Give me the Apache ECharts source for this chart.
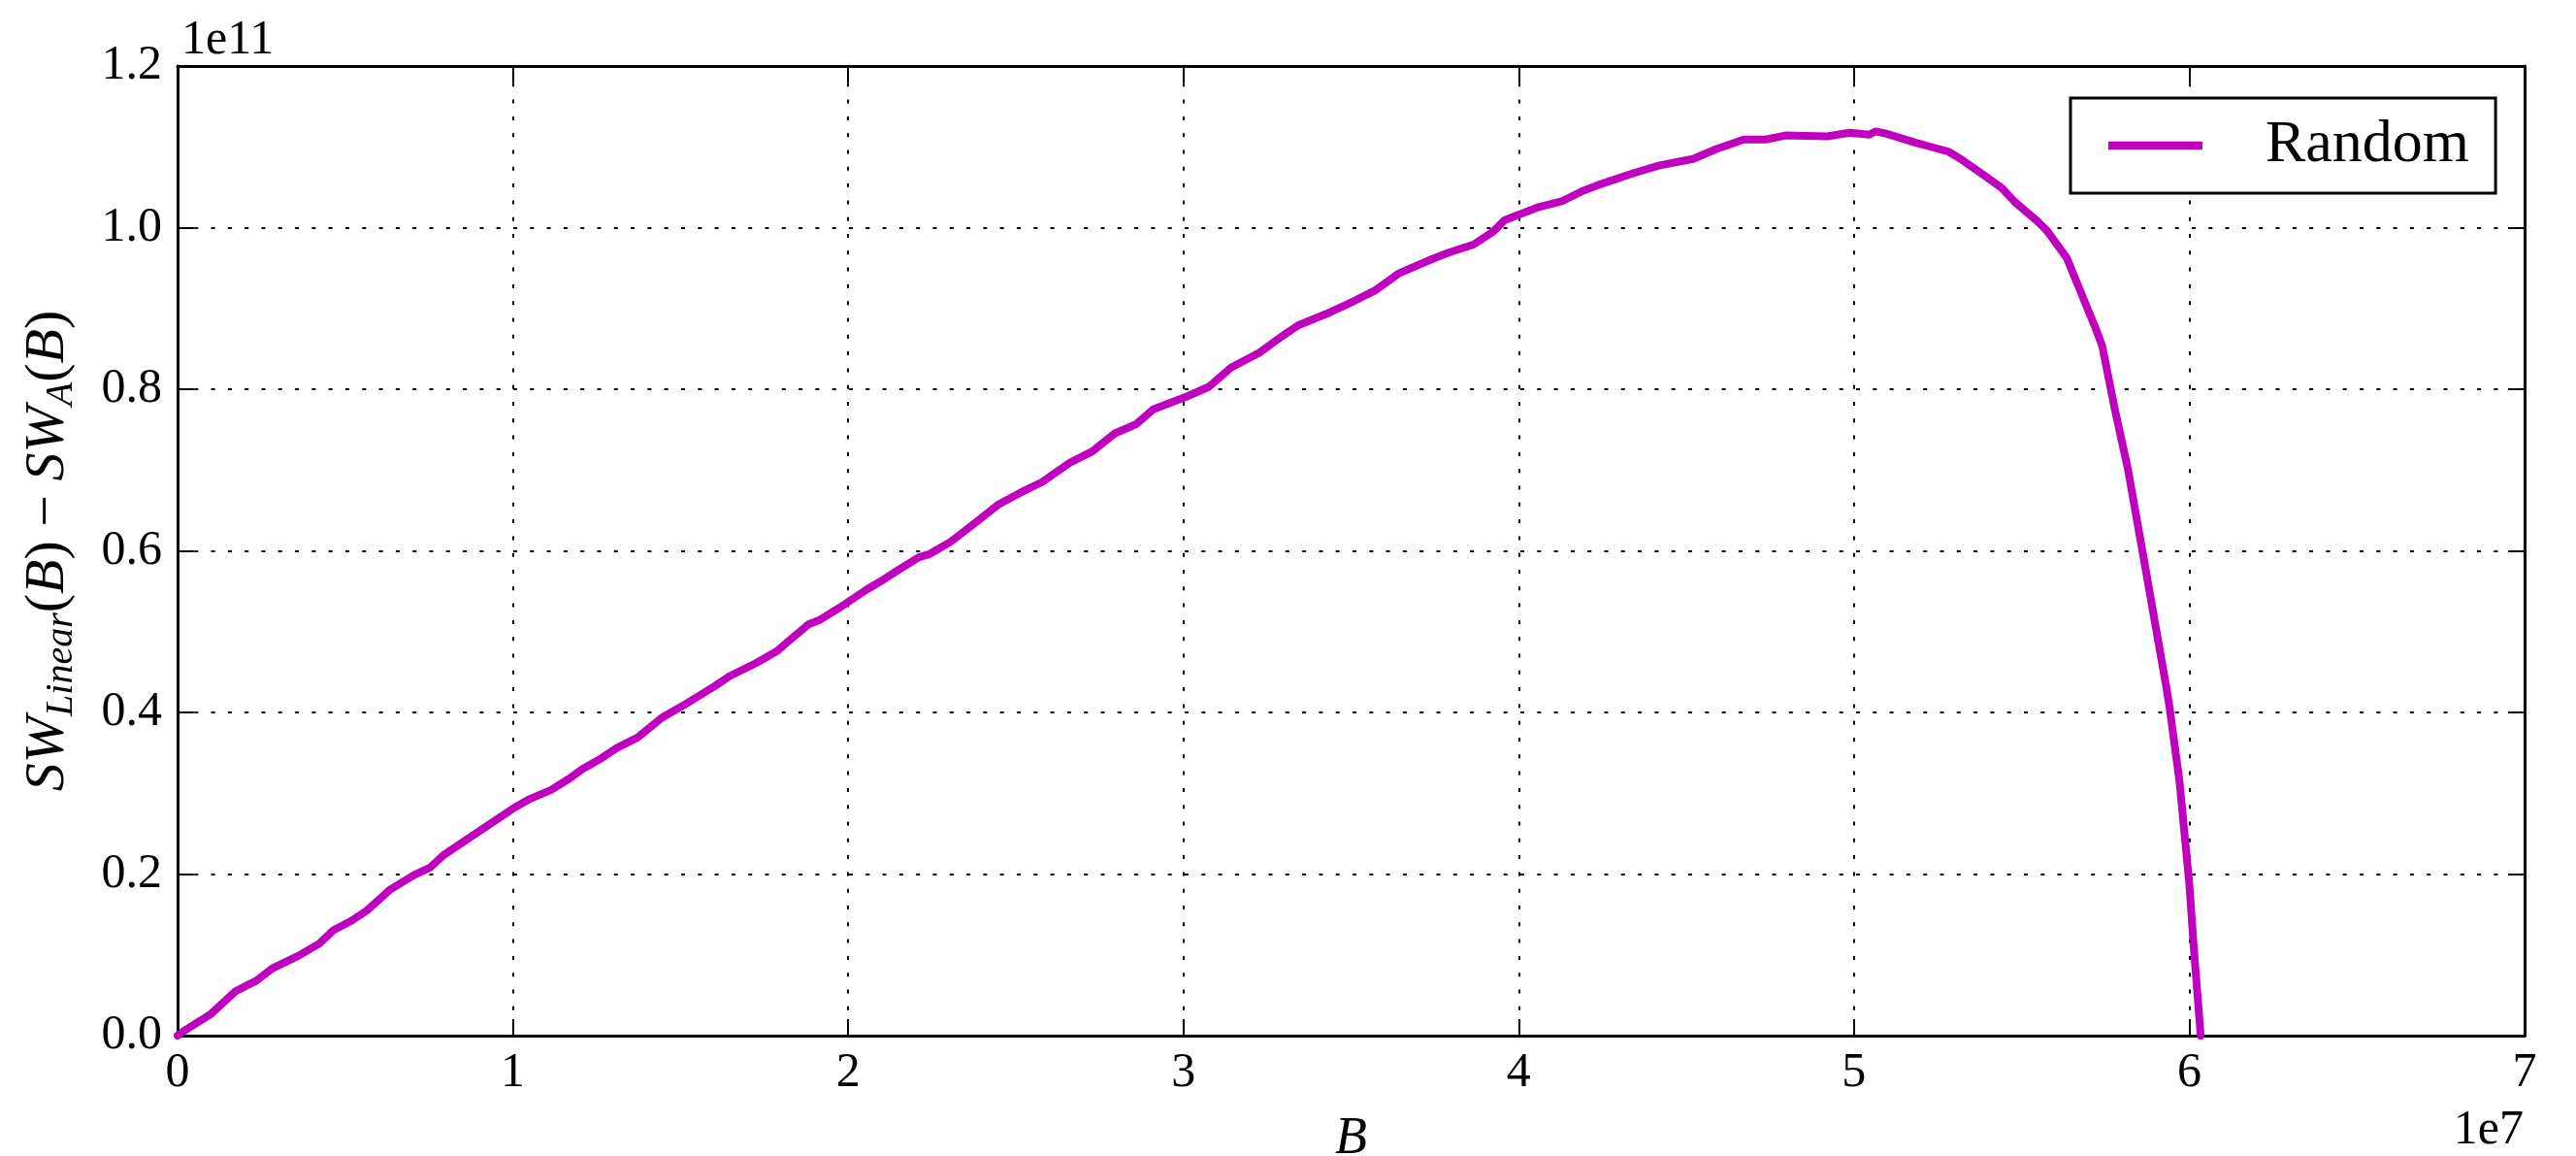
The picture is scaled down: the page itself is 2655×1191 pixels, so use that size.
<!DOCTYPE html>
<html>
<head>
<meta charset="utf-8">
<script src="https://cdn.jsdelivr.net/npm/echarts@6/dist/echarts.min.js"></script>
<style>
html,body{margin:0;padding:0;background:#fff;}
#c{width:2655px;height:1191px;}
</style>
</head>
<body>
<div id="c"></div>
<script>
// B values in units of 1e7, difference values in units of 1e11
const X_SCALE = 1e7;
const Y_SCALE = 1e11;
const B = [0, 0.016, 0.10, 0.173, 0.235, 0.282, 0.361, 0.423, 0.463, 0.518, 0.565, 0.635, 0.706, 0.753, 0.792, 0.878, 0.957, 1.004, 1.051, 1.114, 1.168, 1.208, 1.263, 1.31, 1.372, 1.443, 1.506, 1.60, 1.647, 1.725, 1.788, 1.819, 1.882, 1.913, 1.976, 2.055, 2.10, 2.141, 2.211, 2.243, 2.305, 2.368, 2.447, 2.528, 2.578, 2.661, 2.728, 2.794, 2.86, 2.91, 3.01, 3.076, 3.143, 3.226, 3.292, 3.342, 3.425, 3.508, 3.575, 3.641, 3.741, 3.791, 3.865, 3.924, 3.957, 4.056, 4.131, 4.189, 4.239, 4.339, 4.42, 4.52, 4.588, 4.671, 4.737, 4.795, 4.92, 4.987, 5.045, 5.065, 5.098, 5.18, 5.229, 5.282, 5.316, 5.373, 5.441, 5.479, 5.547, 5.576, 5.634, 5.72, 5.74, 5.778, 5.817, 5.855, 5.932, 5.942, 5.971, 6.0, 6.014, 6.034];
const RANDOM = [0, 0.005, 0.027, 0.055, 0.068, 0.083, 0.099, 0.114, 0.130, 0.142, 0.155, 0.181, 0.199, 0.208, 0.223, 0.247, 0.269, 0.282, 0.293, 0.304, 0.318, 0.330, 0.343, 0.356, 0.369, 0.393, 0.408, 0.432, 0.445, 0.461, 0.476, 0.487, 0.509, 0.514, 0.530, 0.552, 0.563, 0.574, 0.592, 0.596, 0.611, 0.631, 0.657, 0.675, 0.685, 0.709, 0.723, 0.745, 0.757, 0.775, 0.791, 0.803, 0.827, 0.845, 0.865, 0.879, 0.893, 0.909, 0.923, 0.943, 0.961, 0.969, 0.979, 0.995, 1.009, 1.025, 1.033, 1.045, 1.053, 1.067, 1.077, 1.085, 1.097, 1.109, 1.109, 1.114, 1.113, 1.1175, 1.115, 1.119, 1.116, 1.1056, 1.100, 1.094, 1.0855, 1.069, 1.049, 1.032, 1.008, 0.996, 0.963, 0.876, 0.854, 0.775, 0.701, 0.612, 0.430, 0.404, 0.314, 0.188, 0.106, 0.0];
const X_TICKS = [0, 1, 2, 3, 4, 5, 6, 7];
const Y_TICKS = [0.0, 0.2, 0.4, 0.6, 0.8, 1.0, 1.2];
const SERIES_NAME = 'Random';

const FONT = '"Liberation Serif", "DejaVu Serif", serif';
const data = B.map((b, i) => [b * X_SCALE, RANDOM[i] * Y_SCALE]);

const gridDash = {type: [4, 13.3], width: 2, color: '#000'};
const tick = {show: true, inside: true, length: 17, lineStyle: {color: '#000', width: 2}};
const axLine = {show: true, onZero: false, lineStyle: {color: '#000', width: 3}};
const xCommon = {type: 'value', min: X_TICKS[0] * X_SCALE, max: X_TICKS[X_TICKS.length - 1] * X_SCALE, interval: X_SCALE};
const yCommon = {type: 'value', min: Y_TICKS[0] * Y_SCALE, max: Y_TICKS[Y_TICKS.length - 1] * Y_SCALE, interval: 0.2 * Y_SCALE};

const chart = echarts.init(document.getElementById('c'), null, {renderer: 'canvas'});
chart.setOption({
  backgroundColor: '#fff',
  animation: false,
  grid: {left: 183, right: 53, top: 68, bottom: 124, containLabel: false, outerBoundsMode: 'none'},
  xAxis: [
    Object.assign({}, xCommon, {
      position: 'bottom',
      axisLine: axLine, axisTick: tick,
      axisLabel: {margin: 14, color: '#000', fontFamily: FONT, fontSize: 50,
        formatter: v => String(Math.round(v / X_SCALE))},
      splitLine: {show: true, lineStyle: gridDash},
      name: 'B', nameLocation: 'middle', nameGap: 80,
      nameTextStyle: {fontFamily: FONT, fontStyle: 'italic', fontSize: 54, color: '#000'}
    }),
    Object.assign({}, xCommon, {
      position: 'top',
      axisLine: axLine, axisTick: tick, axisLabel: {show: false}, splitLine: {show: false}
    })
  ],
  yAxis: [
    Object.assign({}, yCommon, {
      position: 'left',
      axisLine: axLine, axisTick: tick,
      axisLabel: {margin: 16, color: '#000', fontFamily: FONT, fontSize: 50,
        formatter: v => (v / Y_SCALE).toFixed(1)},
      splitLine: {show: true, lineStyle: gridDash},
      name: '{i|SW}{s|Linear}{r|(}{i|B}{r|)}{r| \u2212 }{i|SW}{s|A}{r|(}{i|B}{r|)}',
      nameLocation: 'middle', nameRotate: 90, nameGap: 100,
      nameTextStyle: {
        color: '#000',
        rich: {
          i: {fontFamily: FONT, fontStyle: 'italic', fontSize: 58, lineHeight: 66, color: '#000'},
          r: {fontFamily: FONT, fontSize: 58, lineHeight: 66, color: '#000'},
          s: {fontFamily: FONT, fontStyle: 'italic', fontSize: 40, lineHeight: 42, color: '#000',
              verticalAlign: 'bottom', padding: [46, 0, 0, 0]}
        }
      }
    }),
    Object.assign({}, yCommon, {
      position: 'right',
      axisLine: axLine, axisTick: tick, axisLabel: {show: false}, splitLine: {show: false}
    })
  ],
  legend: {
    show: true,
    left: 2134, top: 101,
    orient: 'horizontal',
    padding: [18, 27, 18, 39],
    borderColor: '#000', borderWidth: 3, borderRadius: 0,
    backgroundColor: '#fff',
    itemWidth: 97, itemHeight: 20,
    data: [{name: SERIES_NAME, icon: 'path://M0,0 L100,0 L100,9 L0,9 Z', itemStyle: {color: '#bf00bf'}}],
    itemStyle: {color: '#bf00bf'},
    formatter: n => '{g| }{t|' + n + '}',
    textStyle: {
      color: '#000',
      rich: {
        g: {width: 60, fontSize: 10},
        t: {fontFamily: FONT, fontSize: 62, lineHeight: 70, color: '#000'}
      }
    }
  },
  graphic: [
    {type: 'text', left: 187, top: 17, style: {text: '1e11', fontFamily: FONT, fontSize: 50, fill: '#000'}},
    {type: 'text', right: 54, top: 1140, style: {text: '1e7', fontFamily: FONT, fontSize: 50, fill: '#000'}}
  ],
  series: [{
    name: SERIES_NAME,
    type: 'line',
    xAxisIndex: 0, yAxisIndex: 0,
    data: data,
    symbol: 'none',
    smooth: false,
    clip: false,
    lineStyle: {color: '#bf00bf', width: 8, join: 'round', cap: 'round'},
    itemStyle: {color: '#bf00bf'},
    z: 5
  }]
});
</script>
</body>
</html>
